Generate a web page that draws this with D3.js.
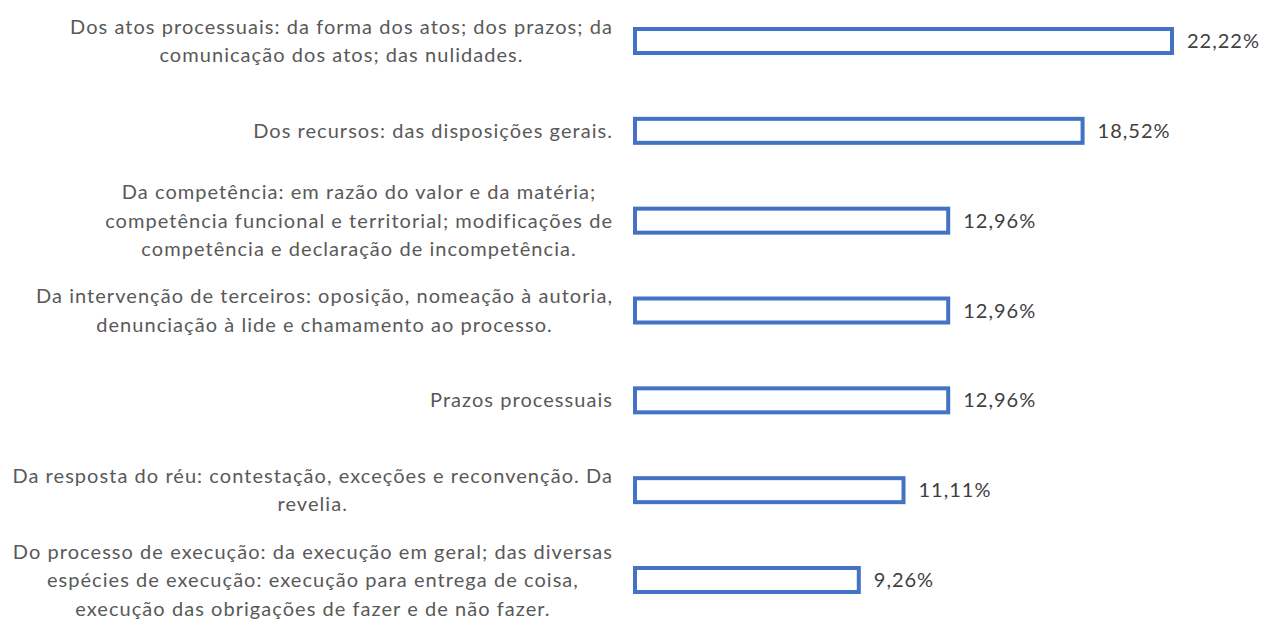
<!DOCTYPE html>
<html>
<head>
<meta charset="utf-8">
<script src="https://cdn.jsdelivr.net/npm/d3@7"></script>
<style>
  body { margin: 0; background: #fff; }
  text { font-family: Lato, "Open Sans", sans-serif; }
</style>
</head>
<body>
<svg id="chart" width="1263" height="620"></svg>
<script>
// categories, already split into the lines the reference wraps them at
const categories = [
  ['Dos atos processuais: da forma dos atos; dos prazos; da', 'comunicação dos atos; das nulidades.'],
  ['Dos recursos: das disposições gerais.'],
  ['Da competência: em razão do valor e da matéria;', 'competência funcional e territorial; modificações de', 'competência e declaração de incompetência.'],
  ['Da intervenção de terceiros: oposição, nomeação à autoria,', 'denunciação à lide e chamamento ao processo.'],
  ['Prazos processuais'],
  ['Da resposta do réu: contestação, exceções e reconvenção. Da', 'revelia.'],
  ['Do processo de execução: da execução em geral; das diversas', 'espécies de execução: execução para entrega de coisa,', 'execução das obrigações de fazer e de não fazer.']
];
const values = [22.22, 18.52, 12.96, 12.96, 12.96, 11.11, 9.26];
const valueLabels = ['22,22%', '18,52%', '12,96%', '12,96%', '12,96%', '11,11%', '9,26%'];

const svg = d3.select('#chart');
const keys = categories.map((d, i) => i);

const x = d3.scaleLinear().domain([0, 22.22]).range([635, 1172]);
const y = d3.scalePoint().domain(keys).range([41, 580]);
const barH = 24;
const lineH = 28.5;
const labelRight = 613;

// bars: white fill, blue outline
svg.selectAll('rect.bar')
  .data(values)
  .enter().append('rect')
  .attr('class', 'bar')
  .attr('x', x(0))
  .attr('y', (d, i) => y(i) - barH / 2)
  .attr('width', d => x(d) - x(0))
  .attr('height', barH)
  .attr('fill', '#fff')
  .attr('stroke', '#4472C4')
  .attr('stroke-width', 4);

// value labels
svg.selectAll('text.val')
  .data(values)
  .enter().append('text')
  .attr('class', 'val')
  .attr('x', d => x(d) + 15)
  .attr('y', (d, i) => y(i))
  .attr('dy', '0.35em')
  .attr('font-size', 20)
  .attr('letter-spacing', 1)
  .attr('fill', '#404040')
  .text((d, i) => valueLabels[i]);

// category labels, lines centred inside a right-aligned block
categories.forEach((lines, i) => {
  const g = svg.append('g');
  const n = lines.length;
  const t = g.selectAll('text')
    .data(lines)
    .enter().append('text')
    .attr('y', (d, j) => y(i) + (j - (n - 1) / 2) * lineH)
    .attr('dy', '0.35em')
    .attr('font-size', 20)
    .attr('letter-spacing', 1.05)
    .attr('fill', '#595959')
    .attr('text-anchor', 'middle')
    .text(d => d);
  let w = 0;
  t.each(function () { w = Math.max(w, this.getComputedTextLength()); });
  t.attr('x', labelRight - w / 2);
});
</script>
</body>
</html>
